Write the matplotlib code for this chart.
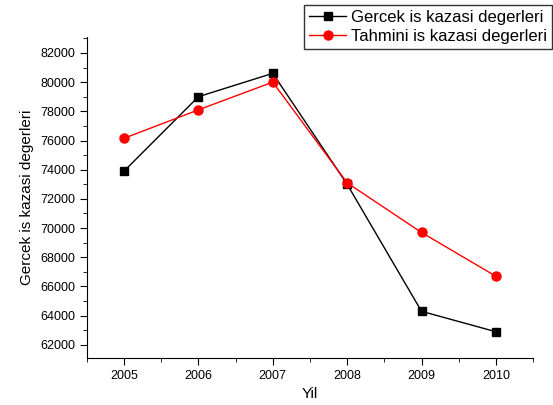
import matplotlib.pyplot as plt
from matplotlib.ticker import MultipleLocator, AutoMinorLocator

plt.rcParams['font.family'] = ['Liberation Sans', 'DejaVu Sans']

years = [2005, 2006, 2007, 2008, 2009, 2010]
gercek = [73900, 79000, 80600, 73000, 64300, 62900]
tahmini = [76150, 78100, 80000, 73100, 69700, 66700]

fig = plt.figure(figsize=(5.53, 4.05), dpi=100)
ax = fig.add_axes([0.157, 0.116, 0.807, 0.793])

ax.plot(years, gercek, color='black', marker='s', markersize=6, linewidth=1,
        label='Gercek is kazasi degerleri')
ax.plot(years, tahmini, color='red', marker='o', markersize=6.5, linewidth=1,
        label='Tahmini is kazasi degerleri')

ax.set_xlim(2004.5, 2010.5)
ax.set_ylim(61100, 83100)
ax.xaxis.set_major_locator(MultipleLocator(1))
ax.xaxis.set_minor_locator(AutoMinorLocator(2))
ax.yaxis.set_major_locator(MultipleLocator(2000))
ax.yaxis.set_minor_locator(AutoMinorLocator(2))

for side in ('top', 'right'):
    ax.spines[side].set_visible(False)
ax.tick_params(which='major', direction='out', length=5, labelsize=9)
ax.tick_params(which='minor', direction='out', length=3)

ax.set_xlabel('Yil', fontsize=11)
ax.set_ylabel('Gercek is kazasi degerleri', fontsize=11)

leg = fig.legend(loc='upper right', bbox_to_anchor=(0.998, 0.988), fontsize=12,
                 frameon=True, fancybox=False, edgecolor='black',
                 borderpad=0.3, labelspacing=0.25, handlelength=2.2,
                 handletextpad=0.3, borderaxespad=0)
leg.get_frame().set_linewidth(1)

fig.savefig('out.png', dpi=100)
